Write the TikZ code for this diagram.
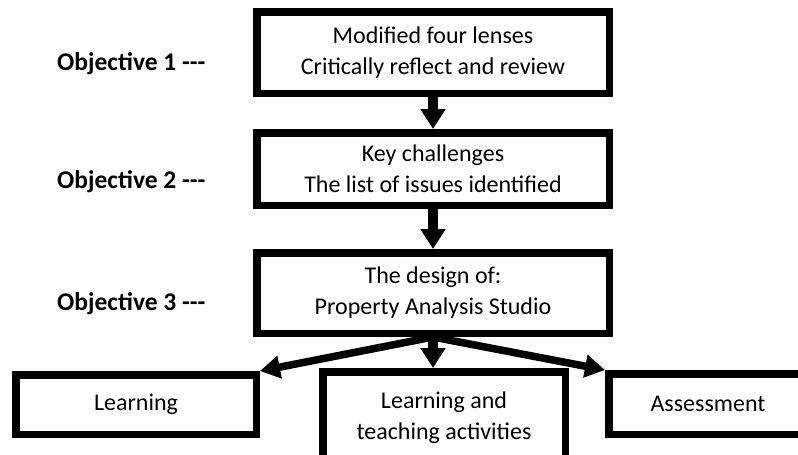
\documentclass[tikz,border=0pt]{standalone}
\usepackage{fontspec}
\setmainfont{Carlito}
\usetikzlibrary{arrows.meta}
\begin{document}
\begin{tikzpicture}[x=1pt,y=-1pt,
	box/.style={draw=black,line width=7.5pt,align=center,inner sep=0pt,
		font=\fontsize{24}{31}\selectfont},
	goal/.style={anchor=base west,inner sep=0pt,font=\fontsize{25.5}{31}\selectfont\bfseries},
	flow/.style={line width=10pt,-{Triangle[width=24pt,length=20pt]}},
	fan/.style={line width=7.5pt,-{Triangle[width=22pt,length=20pt]}}]
		\useasboundingbox (0,0) rectangle (798,455);
		\clip (0,0) rectangle (798,455);
		\node[box,minimum width=352.5pt,minimum height=81.5pt] (lens) at (433,52.5) {Modified four lenses\\Critically reflect and review};
		\node[box,minimum width=352.5pt,minimum height=72.5pt] (keys) at (433,169) {Key challenges\\The list of issues identified};
		\node[box,minimum width=352.5pt,minimum height=80.5pt] (design) at (433,293) {The design of:\\Property Analysis Studio};
		\node[box,minimum width=240.5pt,minimum height=59.5pt] (learn) at (136,404.5) {Learning};
		\node[box,minimum width=242.5pt,minimum height=92.5pt] (teach) at (444,418) {Learning and\\teaching activities};
		\node[box,minimum width=198.5pt,minimum height=60.5pt] (assess) at (708,404) {Assessment};
		\node[goal] (obj1) at (57,70) {Objective 1 -{}-{}-};
		\node[goal] (obj2) at (57,188) {Objective 2 -{}-{}-};
		\node[goal] (obj3) at (57,310) {Objective 3 -{}-{}-};
		\draw[flow] (lens) -- (keys);
		\draw[flow] (keys) -- (design);
		\draw[flow] (design.south) -- (design.south |- teach.north);
		\draw[fan] (design.south) -- (learn.north east);
		\draw[fan] (design.south) -- (assess.north west);
	\end{tikzpicture}
\end{document}
